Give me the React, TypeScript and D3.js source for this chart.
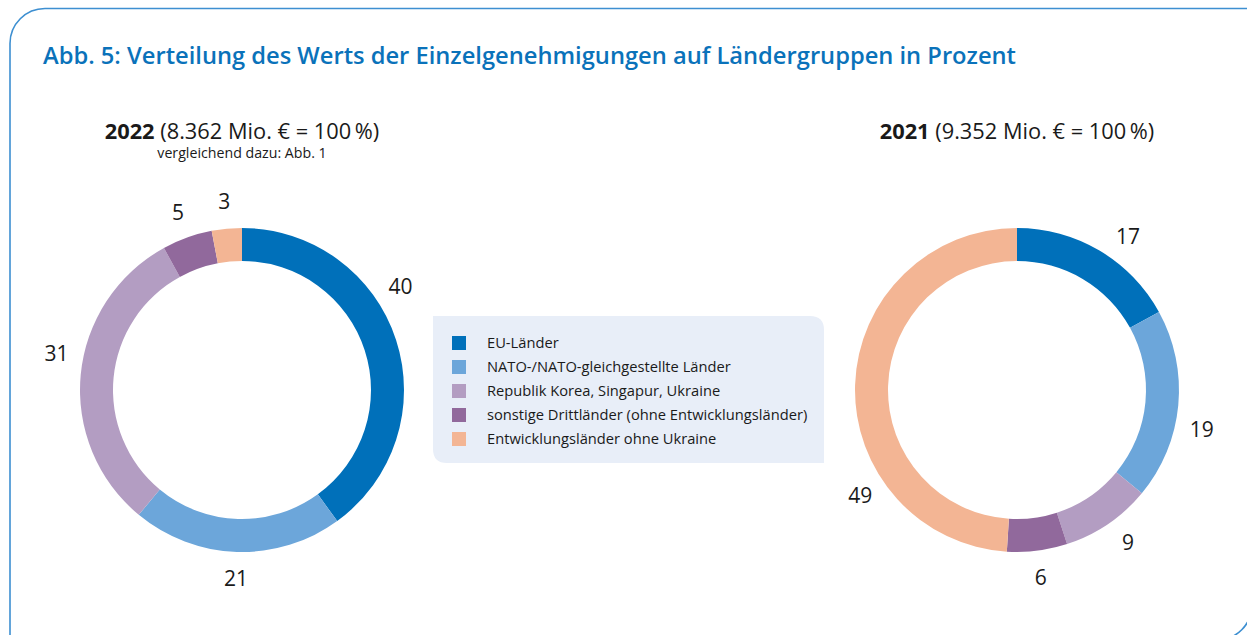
import React from "react";
import * as d3 from "d3";

const categories = [
  "EU-Länder",
  "NATO-/NATO-gleichgestellte Länder",
  "Republik Korea, Singapur, Ukraine",
  "sonstige Drittländer (ohne Entwicklungsländer)",
  "Entwicklungsländer ohne Ukraine",
];
const colors = ["#0070ba", "#6ca6da", "#b39dc2", "#91699c", "#f3b594"];
const values2022 = [40, 21, 31, 5, 3];
const values2021 = [17, 19, 9, 6, 49];

const W = 1247;
const H = 635;
const FONT = "'Open Sans', 'Noto Sans', sans-serif";

function Donut({ cx, cy, values, angleOverride }: { cx: number; cy: number; values: number[]; angleOverride: Record<number, number> }) {
  const pie = d3.pie<number>().sort(null).value((d) => d);
  const arcs = pie(values);
  const arc = d3.arc<d3.PieArcDatum<number>>().innerRadius(129).outerRadius(162);
  const labelR = 189;
  return (
    <g transform={`translate(${cx},${cy})`}>
      {arcs.map((a, i) => (
        <path key={i} d={arc(a) || ""} fill={colors[i]} />
      ))}
      {arcs.map((a, i) => {
        const mid = angleOverride[i] !== undefined ? (angleOverride[i] * Math.PI) / 180 : (a.startAngle + a.endAngle) / 2;
        const x = Math.sin(mid) * labelR;
        const y = -Math.cos(mid) * labelR;
        return (
          <text key={"l" + i} x={x} y={y} dy="0.35em" textAnchor="middle" fontSize={21} fill="#1a1a1a" fontFamily={FONT}>
            {a.data}
          </text>
        );
      })}
    </g>
  );
}

export default function App() {
  const legendX = 433, legendY = 316, legendW = 391, legendH = 147, r = 14;
  const legendPath = `M${legendX},${legendY} H${legendX + legendW - r} Q${legendX + legendW},${legendY} ${legendX + legendW},${legendY + r} V${legendY + legendH} H${legendX + r} Q${legendX},${legendY + legendH} ${legendX},${legendY + legendH - r} Z`;
  const R = 35;
  const framePath = `M10,${640} V${8.5 + R} A${R},${R} 0 0 1 ${10 + R},8.5 H1252 V${640 - R} A${R},${R} 0 0 1 ${1252 - R},640 Z`;
  return (
    <svg width={W} height={H} style={{ position: "fixed", left: 0, top: 0, background: "#fff" }} fontFamily={FONT}>
      <path d={framePath} fill="none" stroke="#3d8fd1" strokeWidth={1.6} />
      <text x={43} y={64} fontSize={24} fill="#0a72ba" fontWeight={600} textLength={973} lengthAdjust="spacingAndGlyphs">
        Abb. 5: Verteilung des Werts der Einzelgenehmigungen auf Ländergruppen in Prozent
      </text>
      <text x={242} y={139} textAnchor="middle" fontSize={21.8} fill="#1a1a1a">
        <tspan fontWeight={700}>2022</tspan> (8.362 Mio. € = 100{"\u2009"}%)
      </text>
      <text x={242} y={158} textAnchor="middle" fontSize={14.2} fill="#1a1a1a">
        vergleichend dazu: Abb. 1
      </text>
      <text x={1017} y={139} textAnchor="middle" fontSize={21.8} fill="#1a1a1a">
        <tspan fontWeight={700}>2021</tspan> (9.352 Mio. € = 100{"\u2009"}%)
      </text>
      <Donut cx={242} cy={390} values={values2022} angleOverride={{ 0: 57, 2: 281 }} />
      <Donut cx={1017} cy={390} values={values2021} angleOverride={{ 0: 36, 1: 102, 2: 144, 4: 236 }} />
      <path d={legendPath} fill="#e8eef8" />
      {categories.map((c, i) => (
        <g key={c} transform={`translate(452,${336 + i * 24})`}>
          <rect width={14} height={14} fill={colors[i]} />
          <text x={35} y={7} dy="0.35em" fontSize={14.7} fill="#1a1a1a">
            {c}
          </text>
        </g>
      ))}
    </svg>
  );
}
